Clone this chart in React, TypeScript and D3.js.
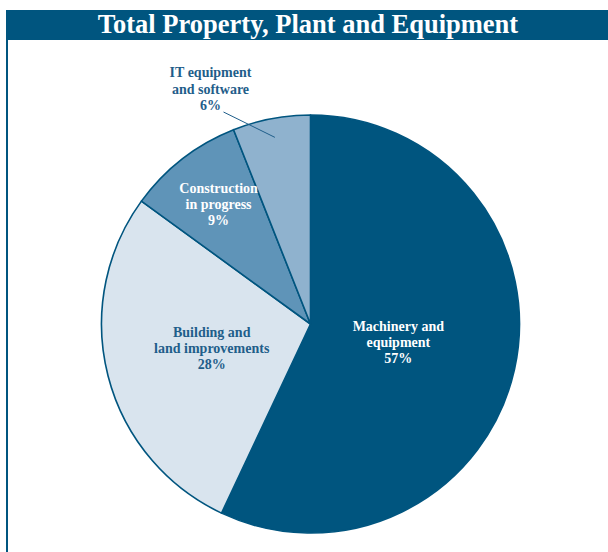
import { useEffect, useRef } from 'react';
import * as d3 from 'd3';

// slice data, clockwise from 12 o'clock
const categories = [
  'Machinery and equipment',
  'Building and land improvements',
  'Construction in progress',
  'IT equipment and software',
];
const shares = [57, 28, 9, 6];
const labelLines = [
  ['Machinery and', 'equipment', '57%'],
  ['Building and', 'land improvements', '28%'],
  ['Construction', 'in progress', '9%'],
  ['IT equipment', 'and software', '6%'],
];
const fills = ['#00557f', '#d9e4ee', '#5f94b8', '#8fb2ce'];
const textColors = ['#ffffff', '#1f5e8a', '#ffffff', '#1f5e8a'];

export default function App() {
  const svgRef = useRef<SVGSVGElement>(null);

  useEffect(() => {
    document.body.style.margin = '0';
    if (!svgRef.current) return;
    const svg = d3.select(svgRef.current);
    svg.selectAll('*').remove();

    const width = 608;
    const height = 552;
    const cx = 310.5;
    const cy = 324;
    const radius = 209;
    const font = "'Liberation Serif', 'Times New Roman', serif";

    // frame: title bar + left rule
    svg.append('rect').attr('x', 6).attr('y', 10).attr('width', width - 6).attr('height', 30).attr('fill', '#00557f');
    svg.append('rect').attr('x', 6).attr('y', 10).attr('width', 2).attr('height', height - 10).attr('fill', '#00557f');
    svg
      .append('text')
      .attr('x', 308)
      .attr('y', 33)
      .attr('text-anchor', 'middle')
      .style('font-family', font)
      .style('font-weight', 'bold')
      .style('font-size', '26.5px')
      .style('fill', '#fff')
      .text('Total Property, Plant and Equipment');

    const data = categories.map((c, i) => ({ name: c, value: shares[i], i }));
    const pie = d3
      .pie<{ name: string; value: number; i: number }>()
      .value((d) => d.value)
      .sort(null);
    const arcs = pie(data);
    const arc = d3.arc<d3.PieArcDatum<any>>().innerRadius(0).outerRadius(radius);

    const g = svg.append('g').attr('transform', `translate(${cx},${cy})`);

    g.selectAll('path')
      .data(arcs)
      .enter()
      .append('path')
      .attr('d', arc as any)
      .attr('fill', (d) => fills[d.data.i])
      .attr('stroke', '#00557f')
      .attr('stroke-width', 1.6)
      .attr('stroke-linejoin', 'round');

    // label radii per slice (last one sits outside with a leader)
    const labelR = [90, 102, 150, 0];
    const lineH = 16.3;

    arcs.forEach((a, k) => {
      const mid = (a.startAngle + a.endAngle) / 2;
      let lx: number;
      let ly: number;
      if (k === 3) {
        const p1 = [Math.sin(mid) * 190, -Math.cos(mid) * 190];
        lx = -100;
        ly = -234;
        g.append('line')
          .attr('x1', p1[0])
          .attr('y1', p1[1])
          .attr('x2', -87)
          .attr('y2', -212)
          .attr('stroke', '#1f5e8a')
          .attr('stroke-width', 1);
      } else {
        lx = Math.sin(mid) * labelR[k];
        ly = -Math.cos(mid) * labelR[k];
      }
      const t = g
        .append('text')
        .attr('text-anchor', 'middle')
        .style('font-family', font)
        .style('font-weight', 'bold')
        .style('font-size', '14px')
        .style('fill', textColors[k]);
      const lines = labelLines[k];
      lines.forEach((ln, j) => {
        t.append('tspan')
          .attr('x', lx)
          .attr('y', ly + (j - (lines.length - 1) / 2) * lineH + 3.5)
          .text(ln);
      });
    });
  }, []);

  return <svg ref={svgRef} width={608} height={552} style={{ display: 'block' }} />;
}
